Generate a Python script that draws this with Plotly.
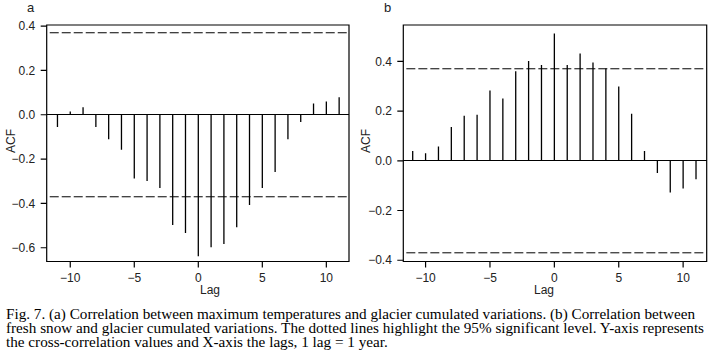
import plotly.graph_objects as go

lags = list(range(-11, 12))
acf_a = [-0.055, 0.015, 0.034, -0.055, -0.11, -0.158, -0.288, -0.299, -0.33, -0.497, -0.533,
         -0.638, -0.598, -0.583, -0.507, -0.407, -0.33, -0.258, -0.11, -0.033, 0.051, 0.06, 0.079]
acf_b = [0.039, 0.03, 0.057, 0.136, 0.181, 0.185, 0.283, 0.25, 0.36, 0.401, 0.385,
         0.512, 0.385, 0.431, 0.395, 0.371, 0.299, 0.189, 0.039, -0.049, -0.128, -0.111, -0.074]
sig_level = 0.37
panel_labels = ["a", "b"]
yticks_a = [-0.6, -0.4, -0.2, 0.0, 0.2, 0.4]
yticks_b = [-0.4, -0.2, 0.0, 0.2, 0.4]
xticks = [-10, -5, 0, 5, 10]
caption = [
    "Fig. 7. (a) Correlation between maximum temperatures and glacier cumulated variations. (b) Correlation between",
    "fresh snow and glacier cumulated variations. The dotted lines highlight the 95% significant level. Y-axis represents",
    "the cross-correlation values and X-axis the lags, 1 lag = 1 year.",
]

W, H = 711, 359
fig = go.Figure()

def stems(vals):
    xs, ys = [], []
    for l, v in zip(lags, vals):
        xs += [l, l, None]
        ys += [0, v, None]
    return xs, ys

for i, (vals, yt) in enumerate([(acf_a, yticks_a), (acf_b, yticks_b)]):
    xs, ys = stems(vals)
    sfx = "" if i == 0 else "2"
    xr, yr = "x" + sfx, "y" + sfx
    fig.add_trace(go.Scatter(x=xs, y=ys, mode="lines", line=dict(color="black", width=1.3),
                             xaxis=xr, yaxis=yr, showlegend=False, hoverinfo="skip"))
    for s in (sig_level, -sig_level):
        fig.add_shape(type="line", xref=xr + " domain", yref=yr,
                      x0=0.01, x1=1, y0=s, y1=s,
                      line=dict(color="black", width=1, dash="9px,3px"))
    # frame
    fig.add_shape(type="rect", xref=xr + " domain", yref=yr + " domain",
                  x0=0, x1=1, y0=0, y1=1, line=dict(color="black", width=1.2))
    # ticks
    for t in xticks:
        fig.add_shape(type="line", xref=xr, yref=yr + " domain", ysizemode="pixel", yanchor=0,
                      x0=t, x1=t, y0=0, y1=-6, line=dict(color="black", width=1.2))
    for t in yt:
        fig.add_shape(type="line", xref=xr + " domain", yref=yr, xsizemode="pixel", xanchor=0,
                      x0=0, x1=-6, y0=t, y1=t, line=dict(color="black", width=1.2))

tickfont = dict(family="Liberation Sans, Arial, sans-serif", size=12, color="#222")
axcommon = dict(showline=False, ticks="outside", tickcolor="rgba(0,0,0,0)",
                showgrid=False, tickfont=tickfont, automargin=False)

ydom = [1 - 261.5 / H, 1 - 25 / H]
fig.update_layout(
    width=W, height=H, margin=dict(l=0, r=0, t=0, b=0, autoexpand=False),
    plot_bgcolor="white", paper_bgcolor="white",
    xaxis=dict(domain=[46.7 / W, 349 / W], range=[-11.84, 11.77], tickvals=xticks, ticklen=5,
               zeroline=False, anchor="y", **axcommon),
    yaxis=dict(domain=ydom, range=[-0.662, 0.405], tickvals=yticks_a, tickformat=".1f", ticklen=8,
               zeroline=True, zerolinecolor="black", zerolinewidth=1, anchor="x", **axcommon),
    xaxis2=dict(domain=[403.3 / W, 706.7 / W], range=[-11.73, 11.83], tickvals=xticks, ticklen=5,
                zeroline=False, anchor="y2", **axcommon),
    yaxis2=dict(domain=ydom, range=[-0.405, 0.546], tickvals=yticks_b, tickformat=".1f", ticklen=8,
                zeroline=True, zerolinecolor="black", zerolinewidth=1, anchor="x2", **axcommon),
)

labfont = dict(family="Liberation Sans, Arial, sans-serif", size=12, color="#222")
ann = []
for lab, x in zip(panel_labels, [25, 387]):
    ann.append(dict(text=lab, x=x / W, y=1 - 7.5 / H, xref="paper", yref="paper", yanchor="middle",
                    showarrow=False, font=dict(family="Liberation Sans, Arial, sans-serif", size=13, color="#222")))
for x in [11, 366]:
    ann.append(dict(text="ACF", x=x / W, y=1 - 141 / H, xref="paper", yref="paper",
                    xanchor="center", yanchor="middle",
                    showarrow=False, textangle=-90, font=labfont))
for x in [198, 556]:
    ann.append(dict(text="Lag", x=x / W, y=1 - 289.5 / H, xref="paper", yref="paper", yanchor="middle",
                    showarrow=False, font=labfont))
for k, line in enumerate(caption):
    ann.append(dict(text=line, x=4 / W, y=1 - (313.5 + 14 * k) / H, xref="paper", yref="paper",
                    xanchor="left", yanchor="middle", showarrow=False,
                    font=dict(family="Liberation Serif, Times New Roman, serif", size=15.2, color="black")))
fig.update_layout(annotations=ann)

fig.write_html("out.html", config={"displayModeBar": False},
               post_script="document.body.style.margin='0px';document.body.style.padding='0px';")
